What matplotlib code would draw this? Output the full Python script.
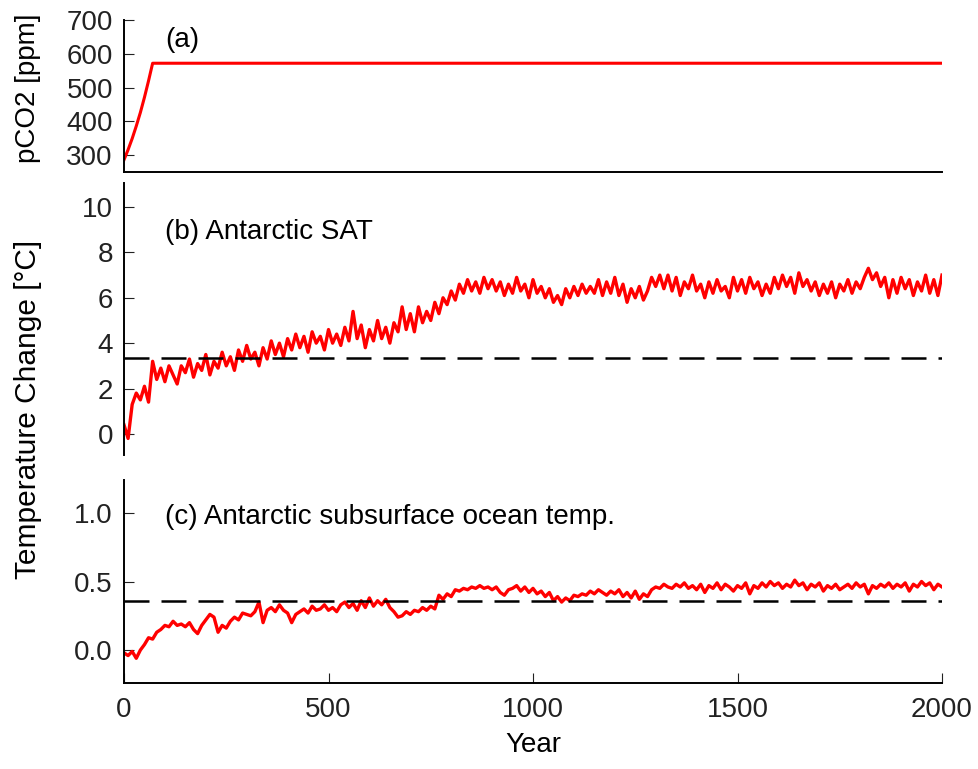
import matplotlib
matplotlib.use("Agg")
import matplotlib.pyplot as plt

plt.rcParams["font.family"] = ["Liberation Sans", "DejaVu Sans"]

# ----------------------- DATA ----------------------- #
co2_years = [0, 10, 20, 30, 40, 50, 60, 70, 2000]
co2_ppm = [286, 316, 349, 386, 426, 471, 520, 572, 572]

years = list(range(0, 2001, 10))

# (b) Antarctic SAT change [degC], read every 10 years
sat = [
    0.4, -0.2, 1.3, 1.8, 1.5, 2.1, 1.4, 3.2, 2.4, 2.9,
    2.3, 3.0, 2.6, 2.2, 3.0, 2.7, 3.3, 2.5, 3.1, 2.8,
    3.5, 2.6, 3.2, 2.9, 3.6, 3.0, 3.4, 2.8, 3.7, 3.2,
    3.9, 3.3, 3.6, 3.0, 3.8, 3.3, 4.1, 3.5, 4.0, 3.4,
    4.2, 3.7, 4.4, 3.8, 4.3, 3.6, 4.5, 4.0, 4.3, 3.7,
    4.6, 4.0, 4.4, 3.9, 4.7, 4.1, 5.4, 4.2, 4.8, 3.8,
    4.6, 4.1, 5.0, 4.2, 4.7, 4.0, 4.9, 4.5, 5.6, 4.6,
    5.3, 4.5, 5.6, 4.9, 5.4, 5.0, 5.8, 5.3, 6.0, 5.7,
    6.3, 5.9, 6.6, 6.2, 6.8, 6.3, 6.7, 6.2, 6.9, 6.4,
    6.8, 6.3, 6.7, 6.1, 6.6, 6.2, 6.9, 6.3, 6.6, 6.0,
    6.8, 6.2, 6.5, 6.0, 6.4, 5.8, 6.1, 5.7, 6.4, 6.0,
    6.5, 6.1, 6.6, 6.2, 6.5, 6.2, 6.8, 6.1, 6.7, 6.2,
    6.9, 6.1, 6.6, 5.8, 6.4, 6.0, 6.5, 5.9, 6.3, 6.9,
    6.5, 7.0, 6.4, 7.0, 6.3, 6.9, 6.1, 6.7, 6.4, 7.0,
    6.3, 6.6, 6.0, 6.7, 6.2, 6.8, 6.3, 6.5, 6.0, 6.9,
    6.3, 6.8, 6.2, 6.9, 6.4, 6.7, 6.1, 6.6, 6.2, 6.9,
    6.4, 7.0, 6.5, 6.9, 6.2, 7.1, 6.5, 6.8, 6.3, 6.7,
    6.1, 6.6, 6.2, 6.7, 6.0, 6.6, 6.3, 6.8, 6.2, 6.7,
    6.4, 6.9, 7.3, 6.8, 7.1, 6.5, 6.9, 6.0, 6.8, 6.2,
    6.9, 6.4, 6.8, 6.1, 6.7, 6.3, 7.0, 6.2, 6.8, 6.1,
    7.0,
]

# (c) Antarctic subsurface ocean temperature change [degC]
ocean = [
    -0.02, -0.04, -0.01, -0.06, 0.00, 0.04, 0.09, 0.08, 0.13, 0.15,
    0.18, 0.17, 0.21, 0.18, 0.19, 0.17, 0.20, 0.15, 0.12, 0.18,
    0.22, 0.26, 0.24, 0.13, 0.18, 0.16, 0.21, 0.24, 0.22, 0.27,
    0.26, 0.25, 0.28, 0.35, 0.20, 0.29, 0.31, 0.28, 0.33, 0.29,
    0.27, 0.20, 0.26, 0.28, 0.30, 0.27, 0.32, 0.29, 0.30, 0.33,
    0.29, 0.31, 0.28, 0.33, 0.35, 0.31, 0.34, 0.29, 0.36, 0.31,
    0.38, 0.32, 0.36, 0.33, 0.37, 0.31, 0.28, 0.24, 0.25, 0.28,
    0.26, 0.29, 0.28, 0.31, 0.29, 0.32, 0.30, 0.40, 0.37, 0.41,
    0.39, 0.44, 0.43, 0.45, 0.44, 0.46, 0.45, 0.47, 0.45, 0.46,
    0.44, 0.46, 0.42, 0.40, 0.44, 0.45, 0.47, 0.43, 0.46, 0.42,
    0.45, 0.41, 0.43, 0.39, 0.42, 0.36, 0.39, 0.35, 0.38, 0.36,
    0.40, 0.39, 0.41, 0.40, 0.43, 0.41, 0.44, 0.42, 0.40, 0.43,
    0.41, 0.44, 0.39, 0.42, 0.38, 0.43, 0.37, 0.41, 0.39, 0.44,
    0.46, 0.45, 0.48, 0.46, 0.45, 0.48, 0.46, 0.49, 0.45, 0.47,
    0.44, 0.48, 0.42, 0.47, 0.45, 0.49, 0.44, 0.48, 0.46, 0.43,
    0.47, 0.45, 0.49, 0.41, 0.47, 0.45, 0.49, 0.46, 0.50, 0.47,
    0.49, 0.45, 0.48, 0.46, 0.51, 0.47, 0.49, 0.44, 0.48, 0.46,
    0.49, 0.43, 0.47, 0.45, 0.48, 0.44, 0.46, 0.48, 0.45, 0.49,
    0.46, 0.48, 0.41, 0.47, 0.45, 0.48, 0.46, 0.49, 0.45, 0.48,
    0.46, 0.49, 0.43, 0.48, 0.46, 0.50, 0.47, 0.49, 0.44, 0.48,
    0.46,
]

sat_ref = 3.35     # dashed reference level, panel (b)
ocean_ref = 0.355  # dashed reference level, panel (c)

co2_ticks = [300, 400, 500, 600, 700]
sat_ticks = [0, 2, 4, 6, 8, 10]
ocean_ticks = [0.0, 0.5, 1.0]
year_ticks = [0, 500, 1000, 1500, 2000]

# ----------------------- FIGURE ----------------------- #
W, H = 979, 769
fig = plt.figure(figsize=(W / 100, H / 100), dpi=100)


def box(x0, y0, x1, y1):
    # pixel box (top-left origin) -> figure fraction rect
    return [x0 / W, 1 - y1 / H, (x1 - x0) / W, (y1 - y0) / H]


ax_a = fig.add_axes(box(124, 20, 942, 172))
ax_b = fig.add_axes(box(124, 183, 942, 455))
ax_c = fig.add_axes(box(124, 480, 942, 683))

red = "#ff0000"
fs = 20

for ax in (ax_a, ax_b, ax_c):
    ax.set_xlim(0, 2000)
    for s in ("top", "right"):
        ax.spines[s].set_visible(False)
    ax.spines["left"].set_linewidth(1.4)
    ax.spines["bottom"].set_linewidth(1.4)
    ax.tick_params(direction="in", length=7, width=0.8, labelsize=fs,
                   colors="#222222")
    ax.tick_params(axis="y", pad=8)

ax_a.plot(co2_years, co2_ppm, color=red, lw=2.2)
ax_a.set_ylim(250, 700)
ax_a.set_yticks(co2_ticks)
ax_a.set_xticks([])
ax_a.text(0.05, 0.87, "(a)", transform=ax_a.transAxes, fontsize=fs,
          va="center", ha="left")

ax_b.plot(years, sat, color=red, lw=2.4)
ax_b.axhline(sat_ref, color="black", lw=1.8, dashes=(10, 4.8))
ax_b.set_ylim(-0.93, 11.06)
ax_b.set_yticks(sat_ticks)
ax_b.set_xticks([])
ax_b.spines["bottom"].set_visible(False)
ax_b.text(0.05, 0.82, "(b) Antarctic SAT", transform=ax_b.transAxes,
          fontsize=fs, va="center", ha="left")

ax_c.plot(years, ocean, color=red, lw=2.4)
ax_c.axhline(ocean_ref, color="black", lw=1.8, dashes=(10, 4.8))
ax_c.set_ylim(-0.24, 1.24)
ax_c.set_yticks(ocean_ticks)
ax_c.set_yticklabels([f"{t:.1f}" for t in ocean_ticks])
ax_c.set_xticks(year_ticks)
ax_c.tick_params(axis="x", pad=10)
ax_c.text(0.05, 0.82, "(c) Antarctic subsurface ocean temp.",
          transform=ax_c.transAxes, fontsize=fs, va="center", ha="left")

fig.text(533 / W, 1 - 745 / H, "Year", fontsize=fs,
         va="center", ha="center")
fig.text(28 / W, 1 - 88 / H, "pCO2 [ppm]", rotation=90,
         fontsize=fs, va="center", ha="center")
fig.text(28 / W, 1 - 409 / H, "Temperature Change [°C]", rotation=90,
         fontsize=21.5, va="center", ha="center")

fig.savefig("out.png", dpi=100)
